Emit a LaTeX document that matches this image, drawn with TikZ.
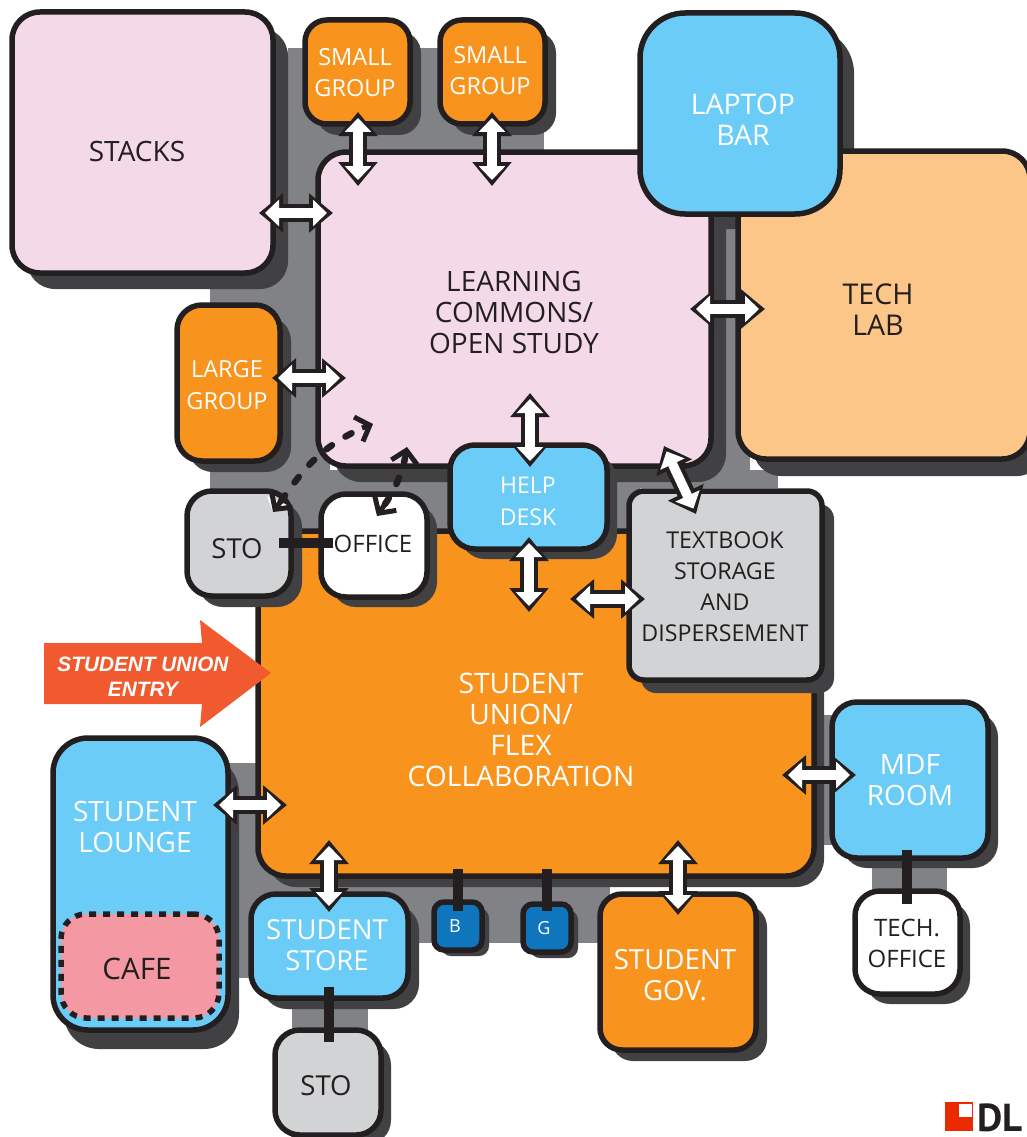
\documentclass[tikz,border=0pt]{standalone}
\usepackage{fontspec}
\setmainfont{Open Sans}
\newfontfamily\entryfont{Liberation Sans}
\newfontfamily\logofont{PT Sans}
\usetikzlibrary{shadows,arrows.meta}
\definecolor{ink}{HTML}{231F20}
\definecolor{cshadow}{HTML}{414042}
\definecolor{corridor}{HTML}{808285}
\definecolor{cpink}{HTML}{F4D9E8}
\definecolor{corange}{HTML}{F8931D}
\definecolor{cblue}{HTML}{6BCDF7}
\definecolor{cpeach}{HTML}{FDC689}
\definecolor{cgray}{HTML}{D1D3D4}
\definecolor{cdeep}{HTML}{0F75BC}
\definecolor{ccafe}{HTML}{F499A3}
\definecolor{centry}{HTML}{F15A2E}
\definecolor{clogo}{HTML}{EC2A00}
\tikzset{
  x=1pt,y=-1pt,
  roombase/.style={draw=ink,line width=5.5pt,inner sep=0pt,outer sep=0pt,rectangle},
  lbl/.style={font=\fontsize{28}{31}\selectfont,align=center,text=ink,inner sep=0pt},
  wlbl/.style={lbl,text=white},
  tie/.style={draw=ink,line width=10pt},
  dasharrow/.style={draw=ink,line width=6.5pt,dash pattern=on 7pt off 16pt,line cap=round},
  openhead/.style={draw=ink,line width=5pt,-{Straight Barb[length=12pt,width=26pt]}},
}
% name, x1, y1, x2, y2, fill, radius, shadow dx, shadow dy
\newcommand{\room}[9]{%
  \pgfmathsetmacro{\cxx}{(#2+#4)/2}\pgfmathsetmacro{\cyy}{(#3+#5)/2}%
  \pgfmathsetmacro{\www}{#4-#2}\pgfmathsetmacro{\hhh}{#5-#3}%
  \node[roombase,general shadow={fill=cshadow,shadow xshift=#8pt,shadow yshift=-#9pt},fill=#6,rounded corners=#7pt,minimum width=\www pt,minimum height=\hhh pt] (#1) at (\cxx,\cyy) {};}
\newcommand{\biarrow}[2]{%
  \draw[ink,line width=18pt,{Triangle[length=24pt,width=38pt]}-{Triangle[length=24pt,width=38pt]}] (#1) -- (#2);
  \draw[white,line width=9.5pt,shorten <=6pt,shorten >=6pt,{Triangle[length=14pt,width=26pt]}-{Triangle[length=14pt,width=26pt]}] (#1) -- (#2);}
\begin{document}
\begin{tikzpicture}
\useasboundingbox (0,0) rectangle (1026,1137);
% corridors
\fill[corridor] (288,48) rectangle (544,160);
\fill[corridor] (210,150) rectangle (330,530);
\fill[corridor] (210,470) rectangle (778,488);
\fill[corridor] (210,488) rectangle (640,530);
\fill[corridor] (700,200) rectangle (750,488);
\fill[corridor] (228,763) rectangle (270,890);
\fill[corridor] (239,870) rectangle (610,943);
\fill[corridor] (239,880) rectangle (300,978);
\fill[corridor] (292,990) rectangle (368,1040);
\fill[corridor] (805,715) rectangle (840,845);
\fill[corridor] (872,850) rectangle (947,895);
% laptop bar shadow lies below the rooms beside it
\fill[cshadow,rounded corners=45pt] (654,28) rectangle (854,229);
% rooms
\room{commons}{318}{152}{711}{466}{cpink}{28}{15}{16}
\room{techlab}{738}{151}{1030}{459}{cpeach}{28}{15}{17}
\room{union}{258}{531}{814}{876}{corange}{28}{10}{11}
\room{stacks}{12}{12}{273}{273}{cpink}{28}{15}{16}
\room{smallA}{305}{20}{410}{124}{corange}{22}{11}{11}
\room{smallB}{440}{20}{545}{124}{corange}{22}{11}{11}
\node[roombase,fill=cblue,rounded corners=45pt,minimum width=200pt,minimum height=201pt] (laptop) at (740,113.5) {};
\room{large}{177}{305}{280}{461}{corange}{25}{11}{11}
\room{stoA}{187}{491}{291}{596}{cgray}{25}{11}{11}
\room{office}{321}{494}{427}{597}{white}{25}{10}{10}
\room{help}{450}{445}{607}{549}{cblue}{25}{10}{10}
\room{textbook}{629}{491}{822}{680}{cgray}{15}{12}{13}
\room{mdf}{832}{702}{988}{858}{cblue}{25}{10}{10}
\room{techoff}{855}{891}{960}{994}{white}{25}{10}{10}
\room{gov}{600}{894}{756}{1050}{corange}{22}{11}{11}
\room{bath}{434}{902}{482}{950}{cdeep}{10}{7}{6}
\room{girls}{523}{904}{571}{952}{cdeep}{10}{7}{6}
\room{store}{251}{894}{408}{998}{cblue}{25}{11}{11}
\room{stoB}{275}{1030}{381}{1135}{cgray}{25}{10}{10}
\room{lounge}{53}{738}{228}{1030}{cblue}{35}{11}{19}
\node[roombase,dashed,dash pattern=on 7pt off 7pt,fill=ccafe,rounded corners=25pt,minimum width=158pt,minimum height=104pt] (cafe) at (140,966) {};
% entry arrow
\fill[centry] (44,643) -- (202,643) -- (200,620) -- (271,673) -- (200,727) -- (202,704) -- (44,704) -- cycle;
% solid ties
\coordinate (tieB) at (458,869);
\coordinate (tieG) at (547,869);
\coordinate (tieStoA) at (279,543);
\coordinate (tieOffice) at (333,543);
\coordinate (tieBin) at (458,911);
\coordinate (tieGin) at (547,911);
\coordinate (tieMdf) at (907,850);
\coordinate (tieTech) at (907,904);
\coordinate (tieStore) at (329,987);
\coordinate (tieSto) at (329,1042);
\draw[tie] (tieStoA) -- (tieOffice);
\draw[tie] (tieB) -- (tieBin);
\draw[tie] (tieG) -- (tieGin);
\draw[tie] (tieMdf) -- (tieTech);
\draw[tie] (tieStore) -- (tieSto);
% double arrows
\coordinate (a1) at (358,112); \coordinate (a2) at (358,186);
\coordinate (b1) at (492,112); \coordinate (b2) at (492,186);
\coordinate (c1) at (259,213); \coordinate (c2) at (333,213);
\coordinate (d1) at (272,378); \coordinate (d2) at (346,378);
\coordinate (e1) at (690,309); \coordinate (e2) at (765,309);
\coordinate (f1) at (530,393); \coordinate (f2) at (530,467);
\coordinate (g1) at (529,537); \coordinate (g2) at (529,612);
\coordinate (h1) at (570,599); \coordinate (h2) at (645,599);
\coordinate (i1) at (664,446); \coordinate (i2) at (696,514);
\coordinate (j1) at (782,775); \coordinate (j2) at (856,775);
\coordinate (k1) at (213,805); \coordinate (k2) at (287,805);
\coordinate (l1) at (329,840); \coordinate (l2) at (329,912);
\coordinate (m1) at (678,840); \coordinate (m2) at (678,915);
\biarrow{a1}{a2}\biarrow{b1}{b2}\biarrow{c1}{c2}\biarrow{d1}{d2}\biarrow{e1}{e2}
\biarrow{f1}{f2}\biarrow{g1}{g2}\biarrow{h1}{h2}\biarrow{i1}{i2}\biarrow{j1}{j2}
\biarrow{k1}{k2}\biarrow{l1}{l2}\biarrow{m1}{m2}
% dashed arrows
\fill[white] (267,496) -- (287,505) -- (273,512) -- cycle;
\coordinate (dA) at (273,512); \coordinate (dB) at (373,424);
\coordinate (dC) at (377,516); \coordinate (dD) at (407,447);
\coordinate (dAs) at (281,501); \coordinate (dBs) at (362,428);
\coordinate (dCs) at (385,504); \coordinate (dDs) at (405,458);
\draw[dasharrow] (dAs) .. controls (300,475) and (315,450) .. (dBs);
\draw[dasharrow] (dCs) .. controls (395,490) and (403,470) .. (dDs);
\draw[openhead] (dAs) -- (dA);
\draw[openhead] (dBs) -- (dB);
\draw[openhead] (dCs) -- (dC);
\draw[openhead] (dDs) -- (dD);
% labels
\node[lbl] (tStacks) at (137,151) {STACKS};
\node[wlbl,font=\fontsize{23.5}{31}\selectfont] (tSmallA) at (355,73) {SMALL\\GROUP};
\node[wlbl,font=\fontsize{23.5}{31}\selectfont] (tSmallB) at (490,71) {SMALL\\GROUP};
\node[wlbl,font=\fontsize{28.4}{31}\selectfont] (tLaptop) at (743,120) {LAPTOP\\BAR};
\node[lbl] (tCommons) at (514,312) {LEARNING\\COMMONS/\\OPEN STUDY};
\node[lbl,font=\fontsize{28.6}{31}\selectfont] (tTech) at (878,310) {TECH\\LAB};
\node[wlbl,font=\fontsize{23.5}{32}\selectfont] (tLarge) at (227,385) {LARGE\\GROUP};
\node[lbl,font=\fontsize{27.5}{31}\selectfont] (tStoA) at (237,549) {STO};
\node[lbl,font=\fontsize{24}{31}\selectfont] (tOffice) at (373,544) {OFFICE};
\node[wlbl,font=\fontsize{23}{32}\selectfont] (tHelp) at (528,501) {HELP\\DESK};
\node[lbl,font=\fontsize{23.2}{31}\selectfont] (tBook) at (725,587) {TEXTBOOK\\STORAGE\\AND\\DISPERSEMENT};
\node[wlbl,font=\fontsize{28.2}{31}\selectfont] (tUnion) at (521,730) {STUDENT\\UNION/\\FLEX\\COLLABORATION};
\node[wlbl] (tMdf) at (910,780) {MDF\\ROOM};
\node[lbl,font=\fontsize{24}{31}\selectfont] (tTechOff) at (907,943) {TECH.\\OFFICE};
\node[wlbl,font=\fontsize{27.7}{31}\selectfont] (tGov) at (675,975) {STUDENT\\GOV.};
\node[wlbl,font=\fontsize{18}{20}\selectfont] (tB) at (455,926) {B};
\node[wlbl,font=\fontsize{18}{20}\selectfont] (tG) at (544,928) {G};
\node[wlbl,font=\fontsize{27.5}{31}\selectfont] (tStore) at (327,945) {STUDENT\\STORE};
\node[lbl,font=\fontsize{27.5}{31}\selectfont] (tStoB) at (326,1086) {STO};
\node[wlbl] (tLounge) at (135,827) {STUDENT\\LOUNGE};
\node[lbl,font=\fontsize{29.6}{31}\selectfont] (tCafe) at (137,969) {CAFE};
\node[text=white,align=center,inner sep=0pt,font=\entryfont\bfseries\itshape\fontsize{20.8}{25}\selectfont] (tEntry) at (143,677) {STUDENT UNION\\ENTRY};
% logo
\fill[clogo] (945,1102) rectangle (973,1131);
\fill[white] (959,1104) rectangle (972,1117);
\node[anchor=base west,inner sep=0pt,text=ink,font=\logofont\bfseries\fontsize{39}{40}\selectfont] (tLogo) at (977,1131) {DL};
\end{tikzpicture}
\end{document}
